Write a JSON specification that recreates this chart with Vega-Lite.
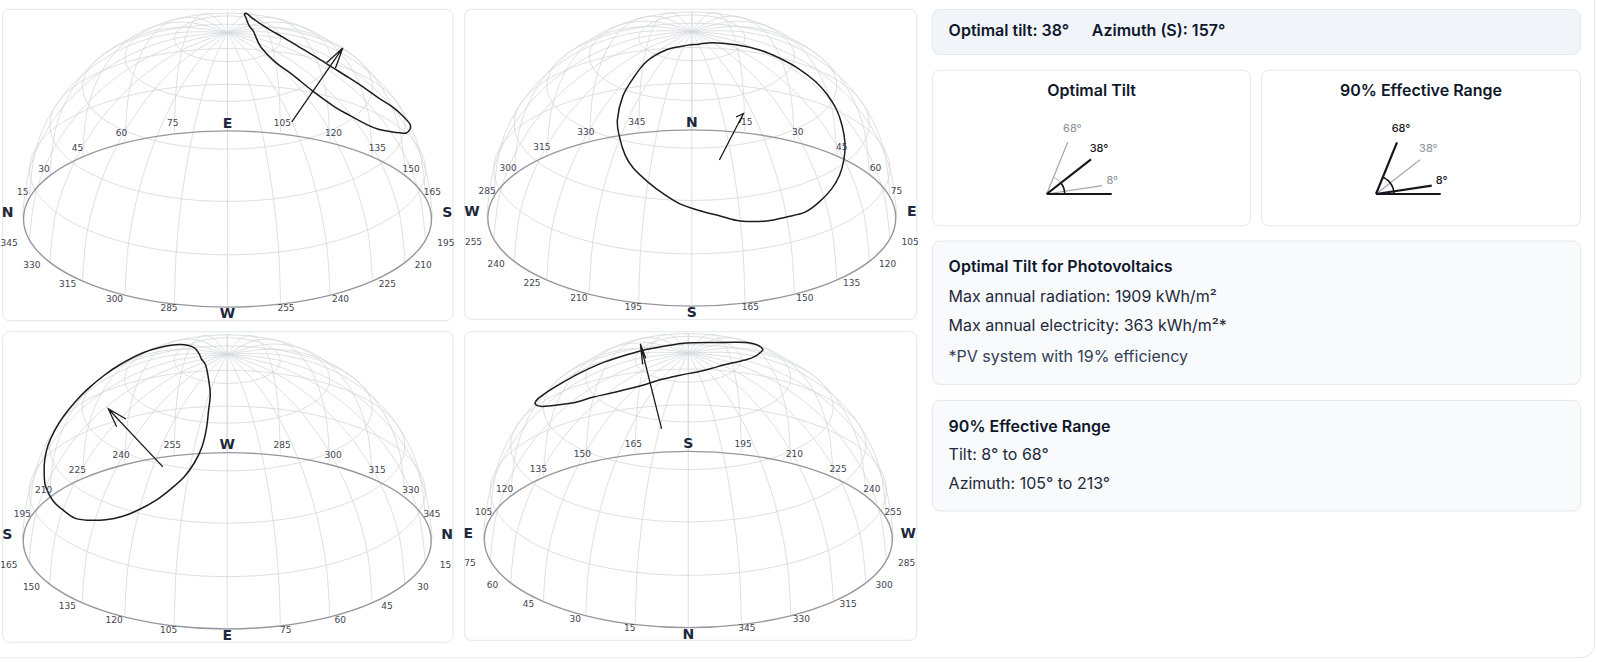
{"$schema":"https://vega.github.io/schema/vega-lite/v6.json","width":1597,"height":662,"padding":0,"autosize":{"type":"none"},"background":"#ffffff","config":{"view":{"stroke":null}},
"datasets":{
"outer":[{"x":-30,"x2":1594.7,"y":-30,"y2":657.7}],
"white":[{"x":2.7,"x2":453,"y":9.3,"y2":320.7},{"x":464.7,"x2":916.7,"y":9.3,"y2":319.3},{"x":2.7,"x2":453,"y":331.7,"y2":642.3},{"x":464.7,"x2":916.7,"y":331.7,"y2":640.3},{"x":932.3,"x2":1250.4,"y":70.3,"y2":225.7},{"x":1261.6,"x2":1580.6,"y":70.3,"y2":225.7}],
"head":[{"x":932.3,"x2":1580.6,"y":9.5,"y2":54.5}],
"light":[{"x":932.3,"x2":1580.6,"y":241,"y2":384.3},{"x":932.3,"x2":1580.6,"y":400.3,"y2":511}],
"grid":[
{"g":"m0","az":0,"lat":0},{"g":"m0","az":0,"lat":15},{"g":"m0","az":0,"lat":30},{"g":"m0","az":0,"lat":45},{"g":"m0","az":0,"lat":60},{"g":"m0","az":0,"lat":75},{"g":"m0","az":0,"lat":90},
{"g":"m15","az":15,"lat":0},{"g":"m15","az":15,"lat":15},{"g":"m15","az":15,"lat":30},{"g":"m15","az":15,"lat":45},{"g":"m15","az":15,"lat":60},{"g":"m15","az":15,"lat":75},{"g":"m15","az":15,"lat":90},
{"g":"m30","az":30,"lat":0},{"g":"m30","az":30,"lat":15},{"g":"m30","az":30,"lat":30},{"g":"m30","az":30,"lat":45},{"g":"m30","az":30,"lat":60},{"g":"m30","az":30,"lat":75},{"g":"m30","az":30,"lat":90},
{"g":"m45","az":45,"lat":0},{"g":"m45","az":45,"lat":15},{"g":"m45","az":45,"lat":30},{"g":"m45","az":45,"lat":45},{"g":"m45","az":45,"lat":60},{"g":"m45","az":45,"lat":75},{"g":"m45","az":45,"lat":90},
{"g":"m60","az":60,"lat":0},{"g":"m60","az":60,"lat":15},{"g":"m60","az":60,"lat":30},{"g":"m60","az":60,"lat":45},{"g":"m60","az":60,"lat":60},{"g":"m60","az":60,"lat":75},{"g":"m60","az":60,"lat":90},
{"g":"m75","az":75,"lat":0},{"g":"m75","az":75,"lat":15},{"g":"m75","az":75,"lat":30},{"g":"m75","az":75,"lat":45},{"g":"m75","az":75,"lat":60},{"g":"m75","az":75,"lat":75},{"g":"m75","az":75,"lat":90},
{"g":"m90","az":90,"lat":0},{"g":"m90","az":90,"lat":15},{"g":"m90","az":90,"lat":30},{"g":"m90","az":90,"lat":45},{"g":"m90","az":90,"lat":60},{"g":"m90","az":90,"lat":75},{"g":"m90","az":90,"lat":90},
{"g":"m105","az":105,"lat":0},{"g":"m105","az":105,"lat":15},{"g":"m105","az":105,"lat":30},{"g":"m105","az":105,"lat":45},{"g":"m105","az":105,"lat":60},{"g":"m105","az":105,"lat":75},{"g":"m105","az":105,"lat":90},
{"g":"m120","az":120,"lat":0},{"g":"m120","az":120,"lat":15},{"g":"m120","az":120,"lat":30},{"g":"m120","az":120,"lat":45},{"g":"m120","az":120,"lat":60},{"g":"m120","az":120,"lat":75},{"g":"m120","az":120,"lat":90},
{"g":"m135","az":135,"lat":0},{"g":"m135","az":135,"lat":15},{"g":"m135","az":135,"lat":30},{"g":"m135","az":135,"lat":45},{"g":"m135","az":135,"lat":60},{"g":"m135","az":135,"lat":75},{"g":"m135","az":135,"lat":90},
{"g":"m150","az":150,"lat":0},{"g":"m150","az":150,"lat":15},{"g":"m150","az":150,"lat":30},{"g":"m150","az":150,"lat":45},{"g":"m150","az":150,"lat":60},{"g":"m150","az":150,"lat":75},{"g":"m150","az":150,"lat":90},
{"g":"m165","az":165,"lat":0},{"g":"m165","az":165,"lat":15},{"g":"m165","az":165,"lat":30},{"g":"m165","az":165,"lat":45},{"g":"m165","az":165,"lat":60},{"g":"m165","az":165,"lat":75},{"g":"m165","az":165,"lat":90},
{"g":"m180","az":180,"lat":0},{"g":"m180","az":180,"lat":15},{"g":"m180","az":180,"lat":30},{"g":"m180","az":180,"lat":45},{"g":"m180","az":180,"lat":60},{"g":"m180","az":180,"lat":75},{"g":"m180","az":180,"lat":90},
{"g":"m195","az":195,"lat":0},{"g":"m195","az":195,"lat":15},{"g":"m195","az":195,"lat":30},{"g":"m195","az":195,"lat":45},{"g":"m195","az":195,"lat":60},{"g":"m195","az":195,"lat":75},{"g":"m195","az":195,"lat":90},
{"g":"m210","az":210,"lat":0},{"g":"m210","az":210,"lat":15},{"g":"m210","az":210,"lat":30},{"g":"m210","az":210,"lat":45},{"g":"m210","az":210,"lat":60},{"g":"m210","az":210,"lat":75},{"g":"m210","az":210,"lat":90},
{"g":"m225","az":225,"lat":0},{"g":"m225","az":225,"lat":15},{"g":"m225","az":225,"lat":30},{"g":"m225","az":225,"lat":45},{"g":"m225","az":225,"lat":60},{"g":"m225","az":225,"lat":75},{"g":"m225","az":225,"lat":90},
{"g":"m240","az":240,"lat":0},{"g":"m240","az":240,"lat":15},{"g":"m240","az":240,"lat":30},{"g":"m240","az":240,"lat":45},{"g":"m240","az":240,"lat":60},{"g":"m240","az":240,"lat":75},{"g":"m240","az":240,"lat":90},
{"g":"m255","az":255,"lat":0},{"g":"m255","az":255,"lat":15},{"g":"m255","az":255,"lat":30},{"g":"m255","az":255,"lat":45},{"g":"m255","az":255,"lat":60},{"g":"m255","az":255,"lat":75},{"g":"m255","az":255,"lat":90},
{"g":"m270","az":270,"lat":0},{"g":"m270","az":270,"lat":15},{"g":"m270","az":270,"lat":30},{"g":"m270","az":270,"lat":45},{"g":"m270","az":270,"lat":60},{"g":"m270","az":270,"lat":75},{"g":"m270","az":270,"lat":90},
{"g":"m285","az":285,"lat":0},{"g":"m285","az":285,"lat":15},{"g":"m285","az":285,"lat":30},{"g":"m285","az":285,"lat":45},{"g":"m285","az":285,"lat":60},{"g":"m285","az":285,"lat":75},{"g":"m285","az":285,"lat":90},
{"g":"m300","az":300,"lat":0},{"g":"m300","az":300,"lat":15},{"g":"m300","az":300,"lat":30},{"g":"m300","az":300,"lat":45},{"g":"m300","az":300,"lat":60},{"g":"m300","az":300,"lat":75},{"g":"m300","az":300,"lat":90},
{"g":"m315","az":315,"lat":0},{"g":"m315","az":315,"lat":15},{"g":"m315","az":315,"lat":30},{"g":"m315","az":315,"lat":45},{"g":"m315","az":315,"lat":60},{"g":"m315","az":315,"lat":75},{"g":"m315","az":315,"lat":90},
{"g":"m330","az":330,"lat":0},{"g":"m330","az":330,"lat":15},{"g":"m330","az":330,"lat":30},{"g":"m330","az":330,"lat":45},{"g":"m330","az":330,"lat":60},{"g":"m330","az":330,"lat":75},{"g":"m330","az":330,"lat":90},
{"g":"m345","az":345,"lat":0},{"g":"m345","az":345,"lat":15},{"g":"m345","az":345,"lat":30},{"g":"m345","az":345,"lat":45},{"g":"m345","az":345,"lat":60},{"g":"m345","az":345,"lat":75},{"g":"m345","az":345,"lat":90}],
"rings":[
{"g":"r15","az":0,"lat":15},{"g":"r15","az":15,"lat":15},{"g":"r15","az":30,"lat":15},{"g":"r15","az":45,"lat":15},{"g":"r15","az":60,"lat":15},{"g":"r15","az":75,"lat":15},{"g":"r15","az":90,"lat":15},{"g":"r15","az":105,"lat":15},{"g":"r15","az":120,"lat":15},{"g":"r15","az":135,"lat":15},{"g":"r15","az":150,"lat":15},{"g":"r15","az":165,"lat":15},{"g":"r15","az":180,"lat":15},{"g":"r15","az":195,"lat":15},{"g":"r15","az":210,"lat":15},{"g":"r15","az":225,"lat":15},{"g":"r15","az":240,"lat":15},{"g":"r15","az":255,"lat":15},{"g":"r15","az":270,"lat":15},{"g":"r15","az":285,"lat":15},{"g":"r15","az":300,"lat":15},{"g":"r15","az":315,"lat":15},{"g":"r15","az":330,"lat":15},{"g":"r15","az":345,"lat":15},
{"g":"r30","az":0,"lat":30},{"g":"r30","az":15,"lat":30},{"g":"r30","az":30,"lat":30},{"g":"r30","az":45,"lat":30},{"g":"r30","az":60,"lat":30},{"g":"r30","az":75,"lat":30},{"g":"r30","az":90,"lat":30},{"g":"r30","az":105,"lat":30},{"g":"r30","az":120,"lat":30},{"g":"r30","az":135,"lat":30},{"g":"r30","az":150,"lat":30},{"g":"r30","az":165,"lat":30},{"g":"r30","az":180,"lat":30},{"g":"r30","az":195,"lat":30},{"g":"r30","az":210,"lat":30},{"g":"r30","az":225,"lat":30},{"g":"r30","az":240,"lat":30},{"g":"r30","az":255,"lat":30},{"g":"r30","az":270,"lat":30},{"g":"r30","az":285,"lat":30},{"g":"r30","az":300,"lat":30},{"g":"r30","az":315,"lat":30},{"g":"r30","az":330,"lat":30},{"g":"r30","az":345,"lat":30},
{"g":"r45","az":0,"lat":45},{"g":"r45","az":15,"lat":45},{"g":"r45","az":30,"lat":45},{"g":"r45","az":45,"lat":45},{"g":"r45","az":60,"lat":45},{"g":"r45","az":75,"lat":45},{"g":"r45","az":90,"lat":45},{"g":"r45","az":105,"lat":45},{"g":"r45","az":120,"lat":45},{"g":"r45","az":135,"lat":45},{"g":"r45","az":150,"lat":45},{"g":"r45","az":165,"lat":45},{"g":"r45","az":180,"lat":45},{"g":"r45","az":195,"lat":45},{"g":"r45","az":210,"lat":45},{"g":"r45","az":225,"lat":45},{"g":"r45","az":240,"lat":45},{"g":"r45","az":255,"lat":45},{"g":"r45","az":270,"lat":45},{"g":"r45","az":285,"lat":45},{"g":"r45","az":300,"lat":45},{"g":"r45","az":315,"lat":45},{"g":"r45","az":330,"lat":45},{"g":"r45","az":345,"lat":45},
{"g":"r60","az":0,"lat":60},{"g":"r60","az":15,"lat":60},{"g":"r60","az":30,"lat":60},{"g":"r60","az":45,"lat":60},{"g":"r60","az":60,"lat":60},{"g":"r60","az":75,"lat":60},{"g":"r60","az":90,"lat":60},{"g":"r60","az":105,"lat":60},{"g":"r60","az":120,"lat":60},{"g":"r60","az":135,"lat":60},{"g":"r60","az":150,"lat":60},{"g":"r60","az":165,"lat":60},{"g":"r60","az":180,"lat":60},{"g":"r60","az":195,"lat":60},{"g":"r60","az":210,"lat":60},{"g":"r60","az":225,"lat":60},{"g":"r60","az":240,"lat":60},{"g":"r60","az":255,"lat":60},{"g":"r60","az":270,"lat":60},{"g":"r60","az":285,"lat":60},{"g":"r60","az":300,"lat":60},{"g":"r60","az":315,"lat":60},{"g":"r60","az":330,"lat":60},{"g":"r60","az":345,"lat":60},
{"g":"r75","az":0,"lat":75},{"g":"r75","az":15,"lat":75},{"g":"r75","az":30,"lat":75},{"g":"r75","az":45,"lat":75},{"g":"r75","az":60,"lat":75},{"g":"r75","az":75,"lat":75},{"g":"r75","az":90,"lat":75},{"g":"r75","az":105,"lat":75},{"g":"r75","az":120,"lat":75},{"g":"r75","az":135,"lat":75},{"g":"r75","az":150,"lat":75},{"g":"r75","az":165,"lat":75},{"g":"r75","az":180,"lat":75},{"g":"r75","az":195,"lat":75},{"g":"r75","az":210,"lat":75},{"g":"r75","az":225,"lat":75},{"g":"r75","az":240,"lat":75},{"g":"r75","az":255,"lat":75},{"g":"r75","az":270,"lat":75},{"g":"r75","az":285,"lat":75},{"g":"r75","az":300,"lat":75},{"g":"r75","az":315,"lat":75},{"g":"r75","az":330,"lat":75},{"g":"r75","az":345,"lat":75}],
"horizon":[{"az":0,"lat":0},{"az":15,"lat":0},{"az":30,"lat":0},{"az":45,"lat":0},{"az":60,"lat":0},{"az":75,"lat":0},{"az":90,"lat":0},{"az":105,"lat":0},{"az":120,"lat":0},{"az":135,"lat":0},{"az":150,"lat":0},{"az":165,"lat":0},{"az":180,"lat":0},{"az":195,"lat":0},{"az":210,"lat":0},{"az":225,"lat":0},{"az":240,"lat":0},{"az":255,"lat":0},{"az":270,"lat":0},{"az":285,"lat":0},{"az":300,"lat":0},{"az":315,"lat":0},{"az":330,"lat":0},{"az":345,"lat":0}],
"ticks":[{"az":15,"lat":0,"label":"15"},{"az":30,"lat":0,"label":"30"},{"az":45,"lat":0,"label":"45"},{"az":60,"lat":0,"label":"60"},{"az":75,"lat":0,"label":"75"},{"az":105,"lat":0,"label":"105"},{"az":120,"lat":0,"label":"120"},{"az":135,"lat":0,"label":"135"},{"az":150,"lat":0,"label":"150"},{"az":165,"lat":0,"label":"165"},{"az":195,"lat":0,"label":"195"},{"az":210,"lat":0,"label":"210"},{"az":225,"lat":0,"label":"225"},{"az":240,"lat":0,"label":"240"},{"az":255,"lat":0,"label":"255"},{"az":285,"lat":0,"label":"285"},{"az":300,"lat":0,"label":"300"},{"az":315,"lat":0,"label":"315"},{"az":330,"lat":0,"label":"330"},{"az":345,"lat":0,"label":"345"}],
"contour":[{"az":165,"lat":82.5},{"az":135,"lat":81.5},{"az":112,"lat":76},{"az":104,"lat":70},{"az":102,"lat":64},{"az":101,"lat":58},{"az":101.5,"lat":52},{"az":103.5,"lat":47},{"az":106.5,"lat":42.5},{"az":110.5,"lat":38.5},{"az":115,"lat":34.5},{"az":120,"lat":31},{"az":125.5,"lat":27.8},{"az":131,"lat":25.5},{"az":137.5,"lat":23.5},{"az":143.4,"lat":22.2},{"az":150,"lat":22.3},{"az":156.7,"lat":22.4},{"az":165.1,"lat":23.5},{"az":171.2,"lat":25.4},{"az":177.4,"lat":27.1},{"az":183.8,"lat":29},{"az":189.4,"lat":31.6},{"az":194.9,"lat":34.4},{"az":201.2,"lat":37.8},{"az":205.6,"lat":41.1},{"az":210.5,"lat":45.9},{"az":214.8,"lat":50.5},{"az":219.2,"lat":57.8},{"az":221.4,"lat":64.4},{"az":223.7,"lat":71.4},{"az":216.9,"lat":78.2},{"az":190,"lat":82}],
"textBold":[{"x":948.6,"y":31,"t":"Optimal tilt: 38°"},{"x":1091.8,"y":31,"t":"Azimuth (S): 157°"},{"x":948.6,"y":267.3,"t":"Optimal Tilt for Photovoltaics"},{"x":948.6,"y":426.7,"t":"90% Effective Range"}],
"titles":[{"x":1091.6,"y":91.3,"t":"Optimal Tilt"},{"x":1421,"y":91.3,"t":"90% Effective Range"}],
"body":[{"x":948.6,"y":296.7,"t":"Max annual radiation: 1909 kWh/m²"},{"x":948.6,"y":326,"t":"Max annual electricity: 363 kWh/m²*"},{"x":948.6,"y":455,"t":"Tilt: 8° to 68°"},{"x":948.6,"y":484,"t":"Azimuth: 105° to 213°"}],
"note":[{"x":948.6,"y":357.3,"t":"*PV system with 19% efficiency"}],
"thin":[{"g":"a68","x":1046.7,"y":194},{"g":"a68","x":1067.7,"y":142.3},{"g":"a8","x":1046.7,"y":194},{"g":"a8","x":1102,"y":185.7},{"g":"b38","x":1376,"y":194},{"g":"b38","x":1420,"y":159.7}],
"thick":[{"g":"a0","x":1046.7,"y":194},{"g":"a0","x":1111.7,"y":194},{"g":"a38","x":1046.7,"y":194},{"g":"a38","x":1091,"y":159.3},{"g":"b0","x":1376,"y":194},{"g":"b0","x":1440.7,"y":194},{"g":"b68","x":1376,"y":194},{"g":"b68","x":1397,"y":142.3},{"g":"b8","x":1376,"y":194},{"g":"b8","x":1431.7,"y":185.7}],
"arcDark":[{"g":"a","x":1064.7,"y":194},{"g":"a","x":1064.4,"y":190.9},{"g":"a","x":1063.6,"y":187.8},{"g":"a","x":1062.3,"y":185},{"g":"a","x":1060.9,"y":182.9},{"g":"b","x":1394,"y":194},{"g":"b","x":1393.8,"y":191.5},{"g":"b","x":1392.9,"y":187.8},{"g":"b","x":1391.6,"y":185},{"g":"b","x":1389.8,"y":182.4},{"g":"b","x":1387.6,"y":180.2},{"g":"b","x":1385,"y":178.4},{"g":"b","x":1382.7,"y":177.3}],
"arcLight":[{"g":"a","x":1060.9,"y":182.9},{"g":"a","x":1058.3,"y":180.2},{"g":"a","x":1055.7,"y":178.4},{"g":"a","x":1053.4,"y":177.3}],
"angDark":[{"x":1099,"y":149.3,"t":"38°"},{"x":1401,"y":129.3,"t":"68°"},{"x":1441.7,"y":180.7,"t":"8°"}],
"angGray":[{"x":1072.3,"y":129.3,"t":"68°"},{"x":1112.3,"y":180.7,"t":"8°"},{"x":1428.3,"y":149,"t":"38°"}]
},
"layer":[
{"data":{"name":"outer"},"mark":{"type":"rect","fill":"#ffffff","stroke":"#e2e5ea","strokeWidth":1,"cornerRadius":14},"encoding":{"x":{"field":"x","type":"quantitative","scale":{"domain":[0,1597],"nice":false,"zero":false},"axis":null},"x2":{"field":"x2"},"y":{"field":"y","type":"quantitative","scale":{"domain":[662,0],"nice":false,"zero":false},"axis":null},"y2":{"field":"y2"}}},
{"data":{"name":"white"},"mark":{"type":"rect","fill":"#ffffff","stroke":"#e2e5ea","strokeWidth":1,"cornerRadius":7},"encoding":{"x":{"field":"x","type":"quantitative","axis":null},"x2":{"field":"x2"},"y":{"field":"y","type":"quantitative","axis":null},"y2":{"field":"y2"}}},
{"data":{"name":"head"},"mark":{"type":"rect","fill":"#f1f5f9","stroke":"#e2e8f0","strokeWidth":1,"cornerRadius":8},"encoding":{"x":{"field":"x","type":"quantitative","axis":null},"x2":{"field":"x2"},"y":{"field":"y","type":"quantitative","axis":null},"y2":{"field":"y2"}}},
{"data":{"name":"light"},"mark":{"type":"rect","fill":"#f8fafc","stroke":"#e2e8f0","strokeWidth":1,"cornerRadius":8},"encoding":{"x":{"field":"x","type":"quantitative","axis":null},"x2":{"field":"x2"},"y":{"field":"y","type":"quantitative","axis":null},"y2":{"field":"y2"}}},

{"data":{"name":"grid"},"projection":{"type":"orthographic","reflectX":true,"rotate":[-270,-25.5,0],"scale":205,"translate":[227.5,217.5]},"mark":{"type":"line","stroke":"#d5d7dc","strokeWidth":0.8,"interpolate":"cardinal"},"encoding":{"longitude":{"field":"az","type":"quantitative"},"latitude":{"field":"lat","type":"quantitative"},"detail":{"field":"g"}}},
{"data":{"name":"rings"},"projection":{"type":"orthographic","reflectX":true,"rotate":[-270,-25.5,0],"scale":205,"translate":[227.5,217.5]},"mark":{"type":"line","stroke":"#d5d7dc","strokeWidth":0.8,"interpolate":"cardinal-closed"},"encoding":{"longitude":{"field":"az","type":"quantitative"},"latitude":{"field":"lat","type":"quantitative"},"detail":{"field":"g"}}},
{"data":{"name":"horizon"},"projection":{"type":"orthographic","reflectX":true,"rotate":[-270,-25.6,0],"scale":204,"translate":[227.5,219]},"mark":{"type":"line","stroke":"#96979f","strokeWidth":1.4,"interpolate":"cardinal-closed"},"encoding":{"longitude":{"field":"az","type":"quantitative"},"latitude":{"field":"lat","type":"quantitative"}}},
{"data":{"name":"contour"},"projection":{"type":"orthographic","reflectX":true,"rotate":[-270,-25.5,0],"scale":205,"translate":[227.5,217.5]},"mark":{"type":"line","stroke":"#1c1c1c","strokeWidth":1.5,"interpolate":"cardinal-closed"},"encoding":{"longitude":{"field":"az","type":"quantitative"},"latitude":{"field":"lat","type":"quantitative"}}},
{"data":{"values":[{"az":240.1,"lat":51},{"az":147.7,"lat":48.3},{"az":188.8,"lat":60.7},{"az":147.7,"lat":48.3},{"az":189,"lat":57.8}]},"projection":{"type":"orthographic","reflectX":true,"rotate":[-270,-25.5,0],"scale":205,"translate":[227.5,217.5]},"mark":{"type":"line","stroke":"#1c1c1c","strokeWidth":1.3},"encoding":{"longitude":{"field":"az","type":"quantitative"},"latitude":{"field":"lat","type":"quantitative"}}},
{"data":{"name":"ticks"},"transform":[{"filter":"datum.az<180"}],"projection":{"type":"orthographic","reflectX":true,"rotate":[-270,-27.2,0],"scale":212,"translate":[227.5,217]},"mark":{"type":"text","font":"DejaVu Sans","fontSize":9,"fill":"#3f4450","baseline":"middle"},"encoding":{"longitude":{"field":"az","type":"quantitative"},"latitude":{"field":"lat","type":"quantitative"},"text":{"field":"label"}}},
{"data":{"name":"ticks"},"transform":[{"filter":"datum.az>180"}],"projection":{"type":"orthographic","reflectX":true,"rotate":[-270,-24,0],"scale":226,"translate":[227.5,219]},"mark":{"type":"text","font":"DejaVu Sans","fontSize":9,"fill":"#3f4450","baseline":"middle"},"encoding":{"longitude":{"field":"az","type":"quantitative"},"latitude":{"field":"lat","type":"quantitative"},"text":{"field":"label"}}},
{"data":{"values":[{"az":0,"lat":1.6,"label":"N"},{"az":90,"lat":0,"label":"E"},{"az":180,"lat":1.6,"label":"S"},{"az":270,"lat":0,"label":"W"}]},"projection":{"type":"orthographic","reflectX":true,"rotate":[-270,-25.7,0],"scale":220,"translate":[227.5,219]},"mark":{"type":"text","font":"DejaVu Sans","fontSize":14,"fontWeight":"bold","fill":"#1e293b","baseline":"middle"},"encoding":{"longitude":{"field":"az","type":"quantitative"},"latitude":{"field":"lat","type":"quantitative"},"text":{"field":"label"}}},

{"data":{"name":"grid"},"projection":{"type":"orthographic","reflectX":true,"rotate":[-180,-25.5,0],"scale":205,"translate":[691.8,216.5]},"mark":{"type":"line","stroke":"#d5d7dc","strokeWidth":0.8,"interpolate":"cardinal"},"encoding":{"longitude":{"field":"az","type":"quantitative"},"latitude":{"field":"lat","type":"quantitative"},"detail":{"field":"g"}}},
{"data":{"name":"rings"},"projection":{"type":"orthographic","reflectX":true,"rotate":[-180,-25.5,0],"scale":205,"translate":[691.8,216.5]},"mark":{"type":"line","stroke":"#d5d7dc","strokeWidth":0.8,"interpolate":"cardinal-closed"},"encoding":{"longitude":{"field":"az","type":"quantitative"},"latitude":{"field":"lat","type":"quantitative"},"detail":{"field":"g"}}},
{"data":{"name":"horizon"},"projection":{"type":"orthographic","reflectX":true,"rotate":[-180,-25.6,0],"scale":204,"translate":[691.8,218]},"mark":{"type":"line","stroke":"#96979f","strokeWidth":1.4,"interpolate":"cardinal-closed"},"encoding":{"longitude":{"field":"az","type":"quantitative"},"latitude":{"field":"lat","type":"quantitative"}}},
{"data":{"name":"contour"},"projection":{"type":"orthographic","reflectX":true,"rotate":[-180,-25.5,0],"scale":205,"translate":[691.8,216.5]},"mark":{"type":"line","stroke":"#1c1c1c","strokeWidth":1.5,"interpolate":"cardinal-closed"},"encoding":{"longitude":{"field":"az","type":"quantitative"},"latitude":{"field":"lat","type":"quantitative"}}},
{"data":{"values":[{"az":169.7,"lat":41.2},{"az":154.7,"lat":54},{"az":158.8,"lat":53.4},{"az":154.7,"lat":54},{"az":158.2,"lat":51.4}]},"projection":{"type":"orthographic","reflectX":true,"rotate":[-180,-25.5,0],"scale":205,"translate":[691.8,216.5]},"mark":{"type":"line","stroke":"#1c1c1c","strokeWidth":1.3},"encoding":{"longitude":{"field":"az","type":"quantitative"},"latitude":{"field":"lat","type":"quantitative"}}},
{"data":{"name":"ticks"},"transform":[{"filter":"datum.az<90||datum.az>270"}],"projection":{"type":"orthographic","reflectX":true,"rotate":[-180,-27.2,0],"scale":212,"translate":[691.8,216]},"mark":{"type":"text","font":"DejaVu Sans","fontSize":9,"fill":"#3f4450","baseline":"middle"},"encoding":{"longitude":{"field":"az","type":"quantitative"},"latitude":{"field":"lat","type":"quantitative"},"text":{"field":"label"}}},
{"data":{"name":"ticks"},"transform":[{"filter":"datum.az>90&&datum.az<270"}],"projection":{"type":"orthographic","reflectX":true,"rotate":[-180,-24,0],"scale":226,"translate":[691.8,218]},"mark":{"type":"text","font":"DejaVu Sans","fontSize":9,"fill":"#3f4450","baseline":"middle"},"encoding":{"longitude":{"field":"az","type":"quantitative"},"latitude":{"field":"lat","type":"quantitative"},"text":{"field":"label"}}},
{"data":{"values":[{"az":0,"lat":0,"label":"N"},{"az":90,"lat":1.6,"label":"E"},{"az":180,"lat":0,"label":"S"},{"az":270,"lat":1.6,"label":"W"}]},"projection":{"type":"orthographic","reflectX":true,"rotate":[-180,-25.7,0],"scale":220,"translate":[691.8,218]},"mark":{"type":"text","font":"DejaVu Sans","fontSize":14,"fontWeight":"bold","fill":"#1e293b","baseline":"middle"},"encoding":{"longitude":{"field":"az","type":"quantitative"},"latitude":{"field":"lat","type":"quantitative"},"text":{"field":"label"}}},

{"data":{"name":"grid"},"projection":{"type":"orthographic","reflectX":true,"rotate":[-90,-25.5,0],"scale":205,"translate":[227.2,539.3]},"mark":{"type":"line","stroke":"#d5d7dc","strokeWidth":0.8,"interpolate":"cardinal"},"encoding":{"longitude":{"field":"az","type":"quantitative"},"latitude":{"field":"lat","type":"quantitative"},"detail":{"field":"g"}}},
{"data":{"name":"rings"},"projection":{"type":"orthographic","reflectX":true,"rotate":[-90,-25.5,0],"scale":205,"translate":[227.2,539.3]},"mark":{"type":"line","stroke":"#d5d7dc","strokeWidth":0.8,"interpolate":"cardinal-closed"},"encoding":{"longitude":{"field":"az","type":"quantitative"},"latitude":{"field":"lat","type":"quantitative"},"detail":{"field":"g"}}},
{"data":{"name":"horizon"},"projection":{"type":"orthographic","reflectX":true,"rotate":[-90,-25.6,0],"scale":204,"translate":[227.2,540.8]},"mark":{"type":"line","stroke":"#96979f","strokeWidth":1.4,"interpolate":"cardinal-closed"},"encoding":{"longitude":{"field":"az","type":"quantitative"},"latitude":{"field":"lat","type":"quantitative"}}},
{"data":{"name":"contour"},"projection":{"type":"orthographic","reflectX":true,"rotate":[-90,-25.5,0],"scale":205,"translate":[227.2,539.3]},"mark":{"type":"line","stroke":"#1c1c1c","strokeWidth":1.5,"interpolate":"cardinal-closed"},"encoding":{"longitude":{"field":"az","type":"quantitative"},"latitude":{"field":"lat","type":"quantitative"}}},
{"data":{"values":[{"az":116,"lat":44.3},{"az":162.2,"lat":52.5},{"az":146.5,"lat":53.7},{"az":162.2,"lat":52.5},{"az":147.8,"lat":50.4}]},"projection":{"type":"orthographic","reflectX":true,"rotate":[-90,-25.5,0],"scale":205,"translate":[227.2,539.3]},"mark":{"type":"line","stroke":"#1c1c1c","strokeWidth":1.3},"encoding":{"longitude":{"field":"az","type":"quantitative"},"latitude":{"field":"lat","type":"quantitative"}}},
{"data":{"name":"ticks"},"transform":[{"filter":"datum.az>180"}],"projection":{"type":"orthographic","reflectX":true,"rotate":[-90,-27.2,0],"scale":212,"translate":[227.2,538.8]},"mark":{"type":"text","font":"DejaVu Sans","fontSize":9,"fill":"#3f4450","baseline":"middle"},"encoding":{"longitude":{"field":"az","type":"quantitative"},"latitude":{"field":"lat","type":"quantitative"},"text":{"field":"label"}}},
{"data":{"name":"ticks"},"transform":[{"filter":"datum.az<180"}],"projection":{"type":"orthographic","reflectX":true,"rotate":[-90,-24,0],"scale":226,"translate":[227.2,540.8]},"mark":{"type":"text","font":"DejaVu Sans","fontSize":9,"fill":"#3f4450","baseline":"middle"},"encoding":{"longitude":{"field":"az","type":"quantitative"},"latitude":{"field":"lat","type":"quantitative"},"text":{"field":"label"}}},
{"data":{"values":[{"az":0,"lat":1.6,"label":"N"},{"az":90,"lat":0,"label":"E"},{"az":180,"lat":1.6,"label":"S"},{"az":270,"lat":0,"label":"W"}]},"projection":{"type":"orthographic","reflectX":true,"rotate":[-90,-25.7,0],"scale":220,"translate":[227.2,540.8]},"mark":{"type":"text","font":"DejaVu Sans","fontSize":14,"fontWeight":"bold","fill":"#1e293b","baseline":"middle"},"encoding":{"longitude":{"field":"az","type":"quantitative"},"latitude":{"field":"lat","type":"quantitative"},"text":{"field":"label"}}},

{"data":{"name":"grid"},"projection":{"type":"orthographic","reflectX":true,"rotate":[0,-25.5,0],"scale":205,"translate":[688.3,538]},"mark":{"type":"line","stroke":"#d5d7dc","strokeWidth":0.8,"interpolate":"cardinal"},"encoding":{"longitude":{"field":"az","type":"quantitative"},"latitude":{"field":"lat","type":"quantitative"},"detail":{"field":"g"}}},
{"data":{"name":"rings"},"projection":{"type":"orthographic","reflectX":true,"rotate":[0,-25.5,0],"scale":205,"translate":[688.3,538]},"mark":{"type":"line","stroke":"#d5d7dc","strokeWidth":0.8,"interpolate":"cardinal-closed"},"encoding":{"longitude":{"field":"az","type":"quantitative"},"latitude":{"field":"lat","type":"quantitative"},"detail":{"field":"g"}}},
{"data":{"name":"horizon"},"projection":{"type":"orthographic","reflectX":true,"rotate":[0,-25.6,0],"scale":204,"translate":[688.3,539.5]},"mark":{"type":"line","stroke":"#96979f","strokeWidth":1.4,"interpolate":"cardinal-closed"},"encoding":{"longitude":{"field":"az","type":"quantitative"},"latitude":{"field":"lat","type":"quantitative"}}},
{"data":{"name":"contour"},"projection":{"type":"orthographic","reflectX":true,"rotate":[0,-25.5,0],"scale":205,"translate":[688.3,538]},"mark":{"type":"line","stroke":"#1c1c1c","strokeWidth":1.5,"interpolate":"cardinal-closed"},"encoding":{"longitude":{"field":"az","type":"quantitative"},"latitude":{"field":"lat","type":"quantitative"}}},
{"data":{"values":[{"az":13.9,"lat":57.2},{"az":159,"lat":49.3},{"az":72.4,"lat":76.5},{"az":159,"lat":49.3},{"az":86,"lat":78}]},"projection":{"type":"orthographic","reflectX":true,"rotate":[0,-25.5,0],"scale":205,"translate":[688.3,538]},"mark":{"type":"line","stroke":"#1c1c1c","strokeWidth":1.3},"encoding":{"longitude":{"field":"az","type":"quantitative"},"latitude":{"field":"lat","type":"quantitative"}}},
{"data":{"name":"ticks"},"transform":[{"filter":"datum.az>90&&datum.az<270"}],"projection":{"type":"orthographic","reflectX":true,"rotate":[0,-27.2,0],"scale":212,"translate":[688.3,537.5]},"mark":{"type":"text","font":"DejaVu Sans","fontSize":9,"fill":"#3f4450","baseline":"middle"},"encoding":{"longitude":{"field":"az","type":"quantitative"},"latitude":{"field":"lat","type":"quantitative"},"text":{"field":"label"}}},
{"data":{"name":"ticks"},"transform":[{"filter":"datum.az<90||datum.az>270"}],"projection":{"type":"orthographic","reflectX":true,"rotate":[0,-24,0],"scale":226,"translate":[688.3,539.5]},"mark":{"type":"text","font":"DejaVu Sans","fontSize":9,"fill":"#3f4450","baseline":"middle"},"encoding":{"longitude":{"field":"az","type":"quantitative"},"latitude":{"field":"lat","type":"quantitative"},"text":{"field":"label"}}},
{"data":{"values":[{"az":0,"lat":0,"label":"N"},{"az":90,"lat":1.6,"label":"E"},{"az":180,"lat":0,"label":"S"},{"az":270,"lat":1.6,"label":"W"}]},"projection":{"type":"orthographic","reflectX":true,"rotate":[0,-25.7,0],"scale":220,"translate":[688.3,539.5]},"mark":{"type":"text","font":"DejaVu Sans","fontSize":14,"fontWeight":"bold","fill":"#1e293b","baseline":"middle"},"encoding":{"longitude":{"field":"az","type":"quantitative"},"latitude":{"field":"lat","type":"quantitative"},"text":{"field":"label"}}},

{"data":{"name":"textBold"},"mark":{"type":"text","font":"Inter","fontSize":16,"fontWeight":600,"fill":"#0f172a","align":"left","baseline":"middle"},"encoding":{"x":{"field":"x","type":"quantitative","axis":null},"y":{"field":"y","type":"quantitative","axis":null},"text":{"field":"t"}}},
{"data":{"name":"titles"},"mark":{"type":"text","font":"Inter","fontSize":16,"fontWeight":600,"fill":"#0f172a","align":"center","baseline":"middle"},"encoding":{"x":{"field":"x","type":"quantitative","axis":null},"y":{"field":"y","type":"quantitative","axis":null},"text":{"field":"t"}}},
{"data":{"name":"body"},"mark":{"type":"text","font":"Inter","fontSize":16,"fill":"#1e293b","align":"left","baseline":"middle"},"encoding":{"x":{"field":"x","type":"quantitative","axis":null},"y":{"field":"y","type":"quantitative","axis":null},"text":{"field":"t"}}},
{"data":{"name":"note"},"mark":{"type":"text","font":"Inter","fontSize":16,"fill":"#334155","align":"left","baseline":"middle"},"encoding":{"x":{"field":"x","type":"quantitative","axis":null},"y":{"field":"y","type":"quantitative","axis":null},"text":{"field":"t"}}},
{"data":{"name":"thin"},"mark":{"type":"line","stroke":"#a3a6ad","strokeWidth":1.2},"encoding":{"x":{"field":"x","type":"quantitative","axis":null},"y":{"field":"y","type":"quantitative","axis":null},"detail":{"field":"g"}}},
{"data":{"name":"arcLight"},"mark":{"type":"line","stroke":"#a3a6ad","strokeWidth":1,"interpolate":"cardinal"},"encoding":{"x":{"field":"x","type":"quantitative","axis":null},"y":{"field":"y","type":"quantitative","axis":null},"detail":{"field":"g"}}},
{"data":{"name":"thick"},"mark":{"type":"line","stroke":"#16161d","strokeWidth":2.2},"encoding":{"x":{"field":"x","type":"quantitative","axis":null},"y":{"field":"y","type":"quantitative","axis":null},"detail":{"field":"g"}}},
{"data":{"name":"arcDark"},"mark":{"type":"line","stroke":"#16161d","strokeWidth":1.6,"interpolate":"cardinal"},"encoding":{"x":{"field":"x","type":"quantitative","axis":null},"y":{"field":"y","type":"quantitative","axis":null},"detail":{"field":"g"}}},
{"data":{"name":"angDark"},"mark":{"type":"text","font":"Inter","fontSize":11,"fontWeight":500,"fill":"#16161d","align":"center","baseline":"middle"},"encoding":{"x":{"field":"x","type":"quantitative","axis":null},"y":{"field":"y","type":"quantitative","axis":null},"text":{"field":"t"}}},
{"data":{"name":"angGray"},"mark":{"type":"text","font":"Inter","fontSize":11,"fill":"#8a8d94","align":"center","baseline":"middle"},"encoding":{"x":{"field":"x","type":"quantitative","axis":null},"y":{"field":"y","type":"quantitative","axis":null},"text":{"field":"t"}}}
]}
